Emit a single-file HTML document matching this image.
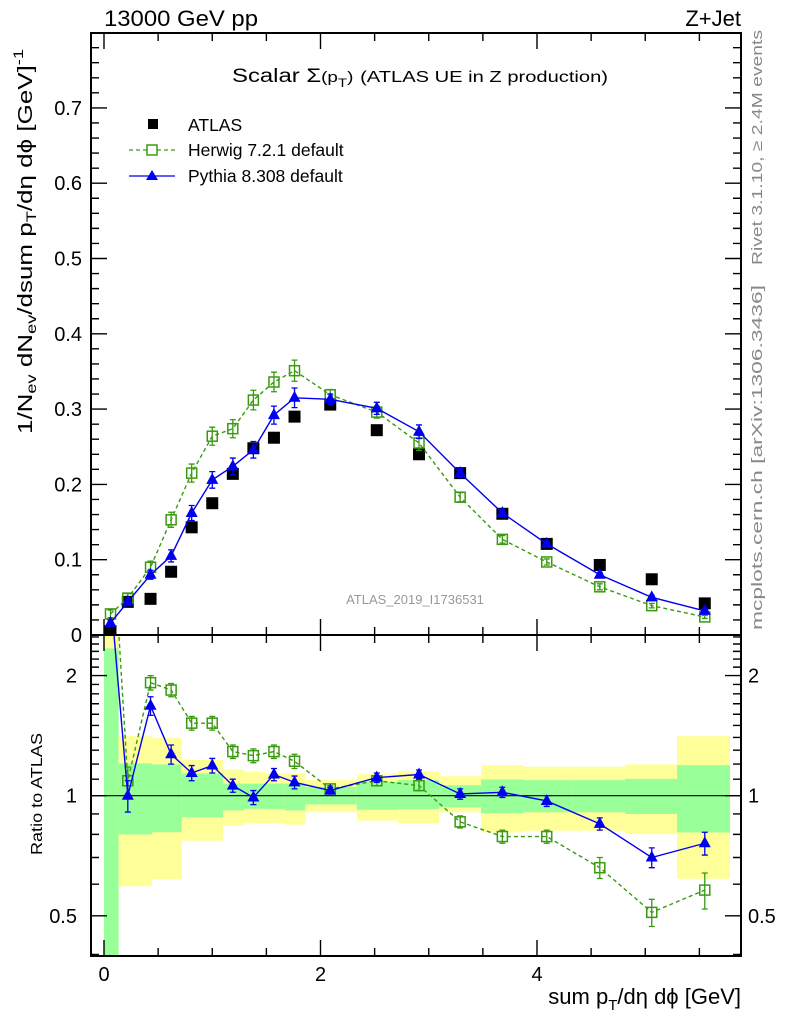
<!DOCTYPE html>
<html><head><meta charset="utf-8"><style>
html,body{margin:0;padding:0;background:#fff}
svg{display:block;font-family:"Liberation Sans",sans-serif}
</style></head><body>
<svg id="c" width="786" height="1024" viewBox="0 0 786 1024" xmlns="http://www.w3.org/2000/svg">
<g id="bands"></g>
<g id="marks"></g>
<g id="axes"></g>
<text x="104" y="26" font-size="22" textLength="154" lengthAdjust="spacingAndGlyphs">13000 GeV pp</text>
<text x="741" y="26" font-size="22" text-anchor="end">Z+Jet</text>
<text x="232" y="82" font-size="19" textLength="376" lengthAdjust="spacingAndGlyphs">Scalar Σ<tspan font-size="15">(p</tspan><tspan font-size="12" dy="5">T</tspan><tspan font-size="15" dy="-5">)</tspan> <tspan font-size="16">(ATLAS UE in Z production)</tspan></text>
<text x="415" y="604" font-size="13" fill="#999" text-anchor="middle">ATLAS_2019_I1736531</text>
<text transform="translate(762,265) rotate(-90)" font-size="15" fill="#888" textLength="235" lengthAdjust="spacingAndGlyphs">Rivet 3.1.10, ≥ 2.4M events</text>
<text transform="translate(762,630) rotate(-90)" font-size="15" fill="#888" textLength="345" lengthAdjust="spacingAndGlyphs">mcplots.cern.ch [arXiv:1306.3436]</text>
<text transform="translate(32,434) rotate(-90)" font-size="20" textLength="385" lengthAdjust="spacingAndGlyphs">1/N<tspan font-size="14" dy="4">ev</tspan><tspan dy="-4"> dN</tspan><tspan font-size="14" dy="4">ev</tspan><tspan dy="-4">/dsum p</tspan><tspan font-size="14" dy="4">T</tspan><tspan dy="-4">/dη dϕ  [GeV]</tspan><tspan font-size="14" dy="-9">-1</tspan></text>
<text transform="translate(42,855) rotate(-90)" font-size="16" textLength="122" lengthAdjust="spacingAndGlyphs">Ratio to ATLAS</text>
<text x="741" y="1004" font-size="22" text-anchor="end">sum p<tspan font-size="15" dy="6">T</tspan><tspan dy="-6">/dη dϕ [GeV]</tspan></text>
<g id="legend">
<g><rect x="148" y="119" width="10" height="10" fill="#000"/><text x="188" y="131" font-size="17.5">ATLAS</text></g>
<g><line x1="129" y1="150" x2="175" y2="150" stroke="#3a9a10" stroke-width="1.3" stroke-dasharray="4,3"/><rect x="147" y="145" width="10" height="10" fill="#fff" stroke="#3a9a10" stroke-width="1.5"/><text x="188" y="156" font-size="17.5">Herwig 7.2.1 default</text></g>
<g><line x1="129" y1="176" x2="175" y2="176" stroke="#0000ee" stroke-width="1.3"/><polygon points="152,170 158,180 146,180" fill="#0000ee"/><text x="188" y="182" font-size="17.5">Pythia 8.308 default</text></g>
</g>
</svg>
<script>
const xCenters=[0.06,0.22,0.43,0.62,0.81,1.0,1.19,1.38,1.57,1.76,2.09,2.52,2.91,3.29,3.68,4.09,4.58,5.06,5.55];
const atlasVals=[0.005,0.044,0.048,0.084,0.143,0.175,0.214,0.248,0.262,0.290,0.306,0.272,0.240,0.215,0.161,0.121,0.093,0.074,0.042];
const herwigVals=[0.028,0.049,0.090,0.153,0.215,0.264,0.274,0.312,0.336,0.351,0.319,0.296,0.255,0.183,0.127,0.097,0.064,0.039,0.024];
const herwigErr=[0.005,0.006,0.008,0.010,0.012,0.012,0.012,0.013,0.013,0.014,0.007,0.008,0.010,0.006,0.005,0.004,0.004,0.003,0.002];
const pythiaVals=[0.016,0.044,0.080,0.105,0.162,0.206,0.224,0.246,0.292,0.315,0.313,0.301,0.270,0.215,0.162,0.121,0.080,0.050,0.032];
const pythiaErr=[0.004,0.005,0.006,0.008,0.010,0.011,0.011,0.011,0.012,0.013,0.007,0.008,0.009,0.006,0.005,0.004,0.003,0.003,0.002];
const herwigRatio=[5.6,1.09,1.92,1.84,1.52,1.52,1.29,1.26,1.29,1.22,1.04,1.09,1.06,0.86,0.79,0.79,0.66,0.51,0.58];
const herwigRatioErr=[0,0.09,0.08,0.07,0.06,0.06,0.05,0.05,0.05,0.05,0.02,0.03,0.03,0.03,0.03,0.03,0.04,0.04,0.06];
const pythiaRatio=[3.2,1.0,1.68,1.27,1.14,1.19,1.06,0.99,1.13,1.08,1.03,1.11,1.13,1.01,1.02,0.97,0.85,0.70,0.76];
const pythiaRatioErr=[0,0.09,0.09,0.07,0.05,0.05,0.04,0.04,0.04,0.04,0.02,0.03,0.03,0.03,0.03,0.03,0.03,0.04,0.05];
const bandEdges=[0,0.135,0.443,0.718,1.10,1.293,1.487,1.666,1.861,2.335,2.716,3.095,3.483,3.875,4.332,4.813,5.293,5.783];
const greenLo=[0.3,0.80,0.81,0.883,0.918,0.927,0.925,0.918,0.951,0.922,0.925,0.936,0.904,0.909,0.909,0.90,0.809];
const greenHi=[2.34,1.205,1.198,1.137,1.072,1.072,1.072,1.072,1.052,1.083,1.094,1.062,1.098,1.094,1.094,1.102,1.193];
const yellowLo=[0.3,0.593,0.617,0.771,0.841,0.853,0.853,0.846,0.909,0.866,0.853,0.909,0.809,0.817,0.817,0.801,0.619];
const yellowHi=[3,1.41,1.394,1.229,1.164,1.148,1.137,1.137,1.094,1.132,1.15,1.119,1.193,1.182,1.182,1.198,1.41];
const xTickLabels=["0","2","4"];
const yTickLabels=["0","0.1","0.2","0.3","0.4","0.5","0.6","0.7"];
const rTickLabels=["0.5","1","2"];

const NS="http://www.w3.org/2000/svg";
const L=91,R=741,T=33,MB=635,RB=956;
const X=v=>104+v*108.25;
const Y=v=>635-v*753;
const RY=v=>795.7-399*Math.log10(v);
function mk(tag,attrs,parent){const e=document.createElementNS(NS,tag);for(const k in attrs)e.setAttribute(k,attrs[k]);parent.appendChild(e);return e;}
const bands=document.getElementById('bands'),marks=document.getElementById('marks'),axes=document.getElementById('axes');
const clipTop=636,clipBot=RB;
function cl(y){return Math.max(clipTop,Math.min(clipBot,y));}
for(let i=0;i<bandEdges.length-1;i++){
  const x1=X(bandEdges[i]),x2=X(bandEdges[i+1]);
  const y1=cl(RY(yellowHi[i])),y2=cl(RY(yellowLo[i]));
  const r=mk('rect',{x:x1,y:y1,width:x2-x1,height:y2-y1,fill:'#ffff99'},bands);
  
  
  const g1=cl(RY(greenHi[i])),g2=cl(RY(greenLo[i]));
  const g=mk('rect',{x:x1,y:g1,width:x2-x1,height:g2-g1,fill:'#99ff99'},bands);
  
  
}
const one=mk('line',{x1:L,x2:R,y1:RY(1),y2:RY(1),stroke:'#000','stroke-width':1.2},bands);



function series(vals,errs,yf,color,dash,marker,name,clipR){
  const g=mk('g',{},marks);
  
  
  g.setAttribute('clip-path',clipR?'url(#rclip)':'url(#mclip)');
  if(marker!=='data'){
    const pts=vals.map((v,i)=>X(xCenters[i])+','+yf(v)).join(' ');
    const pl=mk('polyline',{points:pts,fill:'none',stroke:color,'stroke-width':1.4},g);
    if(dash)pl.setAttribute('stroke-dasharray','4,3');
    
    
  }
  vals.forEach((v,i)=>{
    const x=X(xCenters[i]),y=yf(v);
    if(errs&&errs[i]>0){
      const ya=yf(v+errs[i]),yb=yf(v-errs[i]);
      const e=mk('path',{d:`M${x},${ya}V${yb}M${x-3},${ya}H${x+3}M${x-3},${yb}H${x+3}`,stroke:color,'stroke-width':1.3,fill:'none'},g);
      
      
    }
    let m;
    if(marker==='sq') m=mk('rect',{x:x-5,y:y-5,width:10,height:10,fill:'none',stroke:color,'stroke-width':1.5},g);
    else if(marker==='tri') m=mk('polygon',{points:`${x},${y-7} ${x+6},${y+4} ${x-6},${y+4}`,fill:color},g);
    else m=mk('rect',{x:x-6,y:y-6,width:12,height:12,fill:color},g);
    
    
  });
}
const defs=mk('defs',{},document.getElementById('c'));
const c1=mk('clipPath',{id:'mclip'},defs);mk('rect',{x:L,y:T,width:R-L,height:MB-T},c1);
const c2=mk('clipPath',{id:'rclip'},defs);mk('rect',{x:L,y:MB,width:R-L,height:RB-MB},c2);
series(atlasVals,null,Y,'#000',false,'data','atlas-data',false);
series(herwigVals,herwigErr,Y,'#3a9a10',true,'sq','herwig-series',false);
series(pythiaVals,pythiaErr,Y,'#0000ee',false,'tri','pythia-series',false);
series(herwigRatio,herwigRatioErr,RY,'#3a9a10',true,'sq','herwig-ratio',true);
series(pythiaRatio,pythiaRatioErr,RY,'#0000ee',false,'tri','pythia-ratio',true);

[[T,MB],[MB,RB]].forEach(([a,b],k)=>{
  const f=mk('rect',{x:L,y:a,width:R-L,height:b-a,fill:'none',stroke:'#000','stroke-width':2},axes);
  
  
});
let tk='';
for(let v=0;v<=5.5;v+=0.5){
  const x=X(v),big=Math.abs(v%2)<1e-6;const h=big?16:8;
  tk+=`M${x},${MB}v${-h}M${x},${T}v${h}M${x},${RB}v${-h}M${x},${MB}v${h}`;
}
for(let i=0;i<=39;i++){const v=i*0.02,y=Y(v);if(y<T)break;const h=(i%5===0)?16:8;tk+=`M${L},${y}h${h}M${R},${y}h${-h}`;}
const rt=[0.4,0.5,0.6,0.7,0.8,0.9,1,1.1,1.2,1.3,1.4,1.5,1.6,1.7,1.8,1.9,2,2.1,2.2,2.3,2.4,2.5];
rt.forEach(v=>{const y=RY(v);if(y<MB||y>RB)return;const h=(v===0.5||v===1||v===2)?16:8;tk+=`M${L},${y}h${h}M${R},${y}h${-h}`;});
const tp=mk('path',{d:tk,stroke:'#000','stroke-width':1.4,fill:'none'},axes);


xTickLabels.forEach(s=>{const t=mk('text',{x:X(+s),y:981,'font-size':20,'text-anchor':'middle'},axes);t.textContent=s;
  
  });
yTickLabels.forEach(s=>{const t=mk('text',{x:82,y:Y(+s)+7,'font-size':20,'text-anchor':'end'},axes);t.textContent=s;
  
  });
rTickLabels.forEach(s=>{const t=mk('text',{x:77,y:RY(+s)+7,'font-size':20,'text-anchor':'end'},axes);t.textContent=s;
  
  
  const t2=mk('text',{x:748,y:RY(+s)+7,'font-size':20},axes);t2.textContent=s;
  
  });
</script>
</body></html>
